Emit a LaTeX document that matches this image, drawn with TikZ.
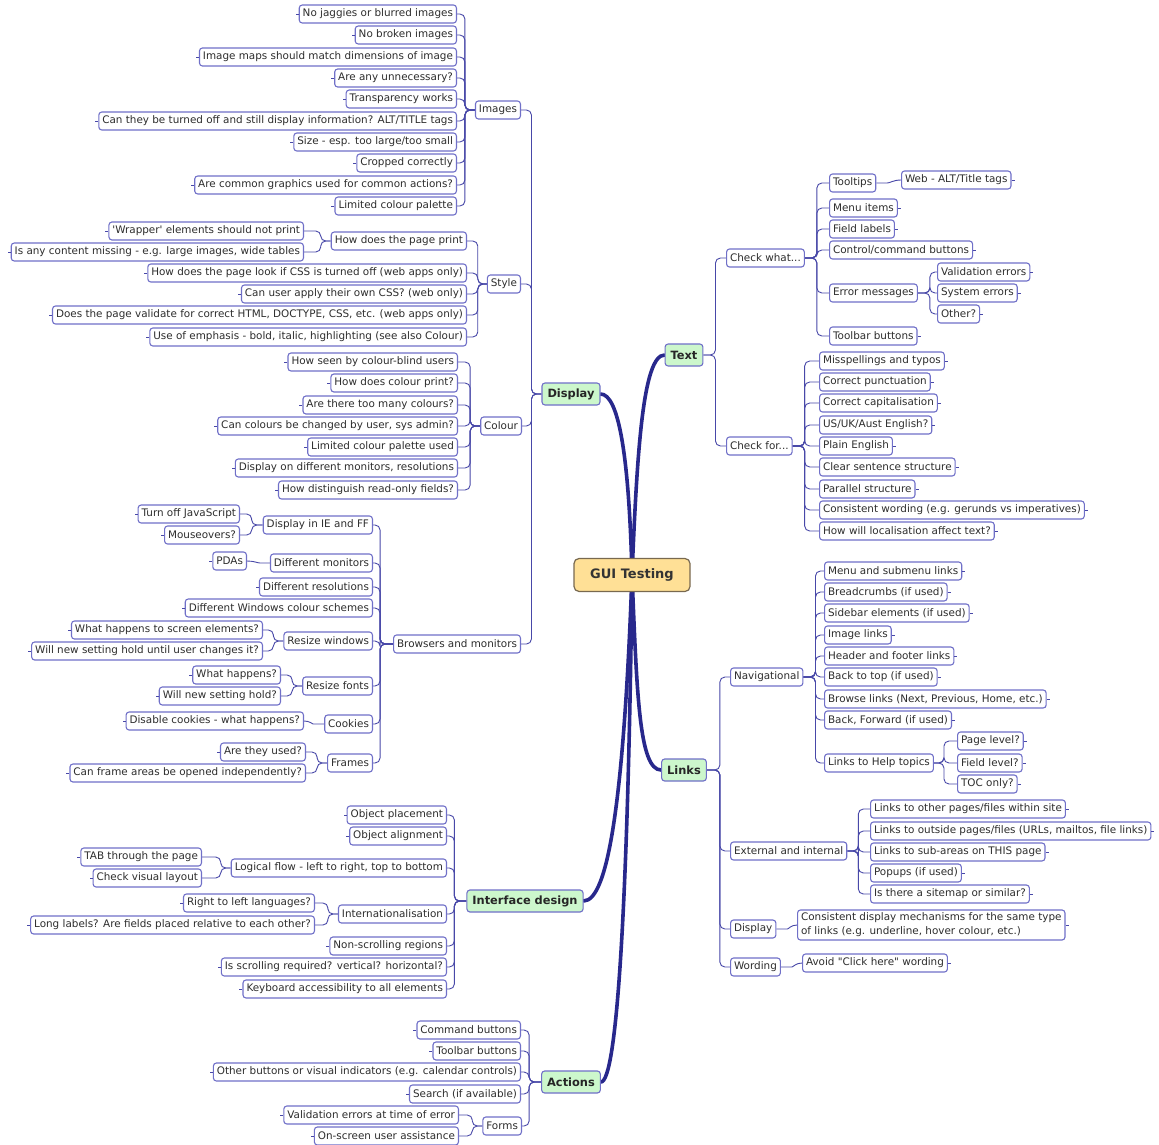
\documentclass[tikz,border=0pt]{standalone}
\usepackage{fontspec}
\setmainfont{DejaVu Sans}
\usetikzlibrary{backgrounds}
\definecolor{bdr}{RGB}{112,112,200}
\definecolor{lnk}{RGB}{72,72,168}
\definecolor{trunk}{RGB}{40,40,140}
\definecolor{mint}{RGB}{204,247,204}
\definecolor{gold}{RGB}{255,224,150}
\definecolor{goldbdr}{RGB}{120,105,80}
\definecolor{txt}{RGB}{45,45,45}
\begin{document}
\begin{tikzpicture}[x=1pt,y=-1pt,
  box/.style={draw=bdr, line width=1.1pt, rounded corners=3pt, fill=white, text=txt,
    font=\fontsize{10.4}{12}\selectfont, inner xsep=3.5pt, inner ysep=0pt, minimum height=18pt},
  tick/.style={draw=lnk, line width=0.9pt},
  L/.style={box, anchor=east},
  R/.style={box, anchor=west},
  lleaf/.style={L, append after command={(\tikzlastnode.west) edge[tick] ([xshift=-3pt]\tikzlastnode.west)}},
  rleaf/.style={R, append after command={(\tikzlastnode.east) edge[tick] ([xshift=3pt]\tikzlastnode.east)}},
  conn/.style={draw=lnk, line width=0.9pt, rounded corners=5pt},
  trunkline/.style={draw=trunk, line width=3.6pt, line cap=round},
  topic/.style={draw=bdr, fill=mint, line width=1.1pt, rounded corners=3pt, text=black!85,
    font=\bfseries\fontsize{11.4}{13}\selectfont, minimum height=22pt, inner xsep=5.5pt, inner ysep=0pt},
  hub/.style={draw=goldbdr, fill=gold, line width=1.2pt, rounded corners=5pt, text=black!80,
    font=\bfseries\fontsize{13}{15}\selectfont, minimum width=116pt, minimum height=33pt},
]
\useasboundingbox (0,0) rectangle (1159,1145);

% ---------- centre and main topics ----------
\node[hub] (gui) at (632,575) {GUI Testing};
\node[topic] (disp) at (571,394) {Display};
\node[topic] (text) at (684,355) {Text};
\node[topic] (links) at (684,770) {Links};
\node[topic] (ifd) at (525,901) {Interface design};
\node[topic] (act) at (571,1082) {Actions};

% ---------- Display ----------
\node[L] (img) at (521,110) {Images};
\node[lleaf] (img1) at (457,14) {No jaggies or blurred images};
\node[lleaf] (img2) at (457,35) {No broken images};
\node[lleaf] (img3) at (457,57) {Image maps should match dimensions of image};
\node[lleaf] (img4) at (457,78) {Are any unnecessary?};
\node[lleaf] (img5) at (457,99) {Transparency works};
\node[lleaf] (img6) at (457,121) {Can they be turned off and still display information? ALT/TITLE tags};
\node[lleaf] (img7) at (457,142) {Size - esp. too large/too small};
\node[lleaf] (img8) at (457,163) {Cropped correctly};
\node[lleaf] (img9) at (457,185) {Are common graphics used for common actions?};
\node[lleaf] (img10) at (457,206) {Limited colour palette};

\node[L] (sty) at (521,284) {Style};
\node[L] (sty1) at (467,241) {How does the page print};
\node[lleaf] (sty1a) at (304,231) {\textquotesingle Wrapper\textquotesingle{} elements should not print};
\node[lleaf] (sty1b) at (304,252) {Is any content missing - e.g. large images, wide tables};
\node[lleaf] (sty2) at (467,273) {How does the page look if CSS is turned off (web apps only)};
\node[lleaf] (sty3) at (467,294) {Can user apply their own CSS? (web only)};
\node[lleaf] (sty4) at (467,315) {Does the page validate for correct HTML, DOCTYPE, CSS, etc. (web apps only)};
\node[lleaf] (sty5) at (467,337) {Use of emphasis - bold, italic, highlighting (see also Colour)};

\node[L] (col) at (522,426) {Colour};
\node[lleaf] (col1) at (458,362) {How seen by colour-blind users};
\node[lleaf] (col2) at (458,383) {How does colour print?};
\node[lleaf] (col3) at (458,405) {Are there too many colours?};
\node[lleaf] (col4) at (458,426) {Can colours be changed by user, sys admin?};
\node[lleaf] (col5) at (458,447) {Limited colour palette used};
\node[lleaf] (col6) at (458,468) {Display on different monitors, resolutions};
\node[lleaf] (col7) at (458,490) {How distinguish read-only fields?};

\node[L] (brw) at (521,644) {Browsers and monitors};
\node[L] (brw1) at (373,525) {Display in IE and FF};
\node[lleaf] (brw1a) at (240,514) {Turn off JavaScript};
\node[lleaf] (brw1b) at (240,535) {Mouseovers?};
\node[L] (brw2) at (373,563) {Different monitors};
\node[lleaf] (brw2a) at (247,561) {PDAs};
\node[lleaf] (brw3) at (373,587) {Different resolutions};
\node[lleaf] (brw4) at (373,608) {Different Windows colour schemes};
\node[L] (brw5) at (373,641) {Resize windows};
\node[lleaf] (brw5a) at (263,630) {What happens to screen elements?};
\node[lleaf] (brw5b) at (263,651) {Will new setting hold until user changes it?};
\node[L] (brw6) at (373,686) {Resize fonts};
\node[lleaf] (brw6a) at (281,675) {What happens?};
\node[lleaf] (brw6b) at (281,696) {Will new setting hold?};
\node[L] (brw7) at (373,724) {Cookies};
\node[lleaf] (brw7a) at (304,721) {Disable cookies - what happens?};
\node[L] (brw8) at (373,763) {Frames};
\node[lleaf] (brw8a) at (306,752) {Are they used?};
\node[lleaf] (brw8b) at (306,773) {Can frame areas be opened independently?};

% ---------- Interface design ----------
\node[lleaf] (ifd1) at (447,815) {Object placement};
\node[lleaf] (ifd2) at (447,836) {Object alignment};
\node[L] (ifd3) at (447,868) {Logical flow - left to right, top to bottom};
\node[lleaf] (ifd3a) at (202,857) {TAB through the page};
\node[lleaf] (ifd3b) at (202,878) {Check visual layout};
\node[L] (ifd4) at (447,914) {Internationalisation};
\node[lleaf] (ifd4a) at (315,903) {Right to left languages?};
\node[lleaf] (ifd4b) at (315,925) {Long labels? Are fields placed relative to each other?};
\node[lleaf] (ifd5) at (447,946) {Non-scrolling regions};
\node[lleaf] (ifd6) at (447,967) {Is scrolling required? vertical? horizontal?};
\node[lleaf] (ifd7) at (447,989) {Keyboard accessibility to all elements};

% ---------- Actions ----------
\node[lleaf] (act1) at (521,1030) {Command buttons};
\node[lleaf] (act2) at (521,1051) {Toolbar buttons};
\node[lleaf] (act3) at (521,1072) {Other buttons or visual indicators (e.g. calendar controls)};
\node[lleaf] (act4) at (521,1094) {Search (if available)};
\node[L] (act5) at (522,1126) {Forms};
\node[lleaf] (act5a) at (459,1115) {Validation errors at time of error};
\node[lleaf] (act5b) at (459,1136) {On-screen user assistance};

% ---------- Text ----------
\node[R] (tx1) at (726,258) {Check what...};
\node[R] (tx1a) at (829,183) {Tooltips};
\node[rleaf] (tx1a1) at (901,180) {Web - ALT/Title tags};
\node[rleaf] (tx1b) at (829,208) {Menu items};
\node[rleaf] (tx1c) at (829,229) {Field labels};
\node[rleaf] (tx1d) at (829,250) {Control/command buttons};
\node[R] (tx1e) at (829,293) {Error messages};
\node[rleaf] (tx1e1) at (937,272) {Validation errors};
\node[rleaf] (tx1e2) at (937,293) {System errors};
\node[rleaf] (tx1e3) at (937,314) {Other?};
\node[rleaf] (tx1f) at (829,336) {Toolbar buttons};

\node[R] (tx2) at (726,446) {Check for...};
\node[rleaf] (tx2a) at (819,361) {Misspellings and typos};
\node[rleaf] (tx2b) at (819,382) {Correct punctuation};
\node[rleaf] (tx2c) at (819,403) {Correct capitalisation};
\node[rleaf] (tx2d) at (819,425) {US/UK/Aust English?};
\node[rleaf] (tx2e) at (819,446) {Plain English};
\node[rleaf] (tx2f) at (819,467) {Clear sentence structure};
\node[rleaf] (tx2g) at (819,489) {Parallel structure};
\node[rleaf] (tx2h) at (819,510) {Consistent wording (e.g. gerunds vs imperatives)};
\node[rleaf] (tx2i) at (819,531) {How will localisation affect text?};

% ---------- Links ----------
\node[R] (ln1) at (730,677) {Navigational};
\node[rleaf] (ln1a) at (824,571) {Menu and submenu links};
\node[rleaf] (ln1b) at (824,592) {Breadcrumbs (if used)};
\node[rleaf] (ln1c) at (824,613) {Sidebar elements (if used)};
\node[rleaf] (ln1d) at (824,635) {Image links};
\node[rleaf] (ln1e) at (824,656) {Header and footer links};
\node[rleaf] (ln1f) at (824,677) {Back to top (if used)};
\node[rleaf] (ln1g) at (824,699) {Browse links (Next, Previous, Home, etc.)};
\node[rleaf] (ln1h) at (824,720) {Back, Forward (if used)};
\node[R] (ln1i) at (824,763) {Links to Help topics};
\node[rleaf] (ln1i1) at (957,741) {Page level?};
\node[rleaf] (ln1i2) at (957,763) {Field level?};
\node[rleaf] (ln1i3) at (957,784) {TOC only?};

\node[R] (ln2) at (730,851) {External and internal};
\node[rleaf] (ln2a) at (870,809) {Links to other pages/files within site};
\node[rleaf] (ln2b) at (870,831) {Links to outside pages/files (URLs, mailtos, file links)};
\node[rleaf] (ln2c) at (870,852) {Links to sub-areas on THIS page};
\node[rleaf] (ln2d) at (870,873) {Popups (if used)};
\node[rleaf] (ln2e) at (870,894) {Is there a sitemap or similar?};

\node[R] (ln3) at (730,929) {Display};
\node[rleaf, align=left, inner ysep=3pt, font=\fontsize{10.4}{14}\selectfont] (ln3a) at (797,925)
  {Consistent display mechanisms for the same type\\of links (e.g. underline, hover colour, etc.)};
\node[R] (ln4) at (730,967) {Wording};
\node[rleaf] (ln4a) at (802,963) {Avoid \textquotedbl Click here\textquotedbl{} wording};

% ---------- connectors ----------
\begin{scope}[on background layer]
  \fill[white] (0,0) rectangle (1159,1145);
  % trunks from the centre
  \draw[trunkline] (gui.center) .. controls +(-3,-120) and +(18,0) .. (disp.east);
  \draw[trunkline] (gui.center) .. controls +(5,-120) and +(-22,0) .. (text.west);
  \draw[trunkline] (gui.center) .. controls +(5,120) and +(-22,0) .. (links.west);
  \draw[trunkline] (gui.center) .. controls +(-8,220) and +(25,0) .. (ifd.east);
  \draw[trunkline] (gui.center) .. controls +(-4,330) and +(16,0) .. (act.east);

  % left-hand branches
  \foreach \c in {img,sty,col,brw} \draw[conn] (disp.west) -- ++(-10,0) |- (\c.east);
  \foreach \c in {img1,img2,img3,img4,img5,img6,img7,img8,img9,img10}
    \draw[conn] (img.west) -- ++(-10,0) |- (\c.east);
  \foreach \c in {sty1,sty2,sty3,sty4,sty5} \draw[conn] (sty.west) -- ++(-9,0) |- (\c.east);
  \foreach \c in {sty1a,sty1b} \draw[conn] (sty1.west) -- ++(-10,0) |- (\c.east);
  \foreach \c in {col1,col2,col3,col4,col5,col6,col7} \draw[conn] (col.west) -- ++(-10,0) |- (\c.east);
  \foreach \c in {brw1,brw2,brw3,brw4,brw5,brw6,brw7,brw8} \draw[conn] (brw.west) -- ++(-13,0) |- (\c.east);
  \foreach \c in {brw1a,brw1b} \draw[conn] (brw1.west) -- ++(-11,0) |- (\c.east);
  \draw[conn] (brw2.west) -- ++(-5,0) to[out=180,in=0] (brw2a.east);
  \foreach \c in {brw5a,brw5b} \draw[conn] (brw5.west) -- ++(-10,0) |- (\c.east);
  \foreach \c in {brw6a,brw6b} \draw[conn] (brw6.west) -- ++(-10,0) |- (\c.east);
  \draw[conn] (brw7.west) -- ++(-6,0) to[out=180,in=0] (brw7a.east);
  \foreach \c in {brw8a,brw8b} \draw[conn] (brw8.west) -- ++(-10,0) |- (\c.east);

  \foreach \c in {ifd1,ifd2,ifd3,ifd4,ifd5,ifd6,ifd7} \draw[conn] (ifd.west) -- ++(-12,0) |- (\c.east);
  \foreach \c in {ifd3a,ifd3b} \draw[conn] (ifd3.west) -- ++(-10,0) |- (\c.east);
  \foreach \c in {ifd4a,ifd4b} \draw[conn] (ifd4.west) -- ++(-10,0) |- (\c.east);

  \foreach \c in {act1,act2,act3,act4,act5} \draw[conn] (act.west) -- ++(-12,0) |- (\c.east);
  \foreach \c in {act5a,act5b} \draw[conn] (act5.west) -- ++(-10,0) |- (\c.east);

  % right-hand branches
  \foreach \c in {tx1,tx2} \draw[conn] (text.east) -- ++(12,0) |- (\c.west);
  \foreach \c in {tx1a,tx1b,tx1c,tx1d,tx1e,tx1f} \draw[conn] (tx1.east) -- ++(12,0) |- (\c.west);
  \draw[conn] (tx1a.east) -- ++(6,0) to[out=0,in=180] (tx1a1.west);
  \foreach \c in {tx1e1,tx1e2,tx1e3} \draw[conn] (tx1e.east) -- ++(12,0) |- (\c.west);
  \foreach \c in {tx2a,tx2b,tx2c,tx2d,tx2e,tx2f,tx2g,tx2h,tx2i} \draw[conn] (tx2.east) -- ++(12,0) |- (\c.west);

  \foreach \c in {ln1,ln2,ln3,ln4} \draw[conn] (links.east) -- ++(13,0) |- (\c.west);
  \foreach \c in {ln1a,ln1b,ln1c,ln1d,ln1e,ln1f,ln1g,ln1h,ln1i} \draw[conn] (ln1.east) -- ++(12,0) |- (\c.west);
  \foreach \c in {ln1i1,ln1i2,ln1i3} \draw[conn] (ln1i.east) -- ++(10,0) |- (\c.west);
  \foreach \c in {ln2a,ln2b,ln2c,ln2d,ln2e} \draw[conn] (ln2.east) -- ++(11,0) |- (\c.west);
  \draw[conn] (ln3.east) -- ++(6,0) to[out=0,in=180] (ln3a.west);
  \draw[conn] (ln4.east) -- ++(6,0) to[out=0,in=180] (ln4a.west);
\end{scope}
\end{tikzpicture}
\end{document}
